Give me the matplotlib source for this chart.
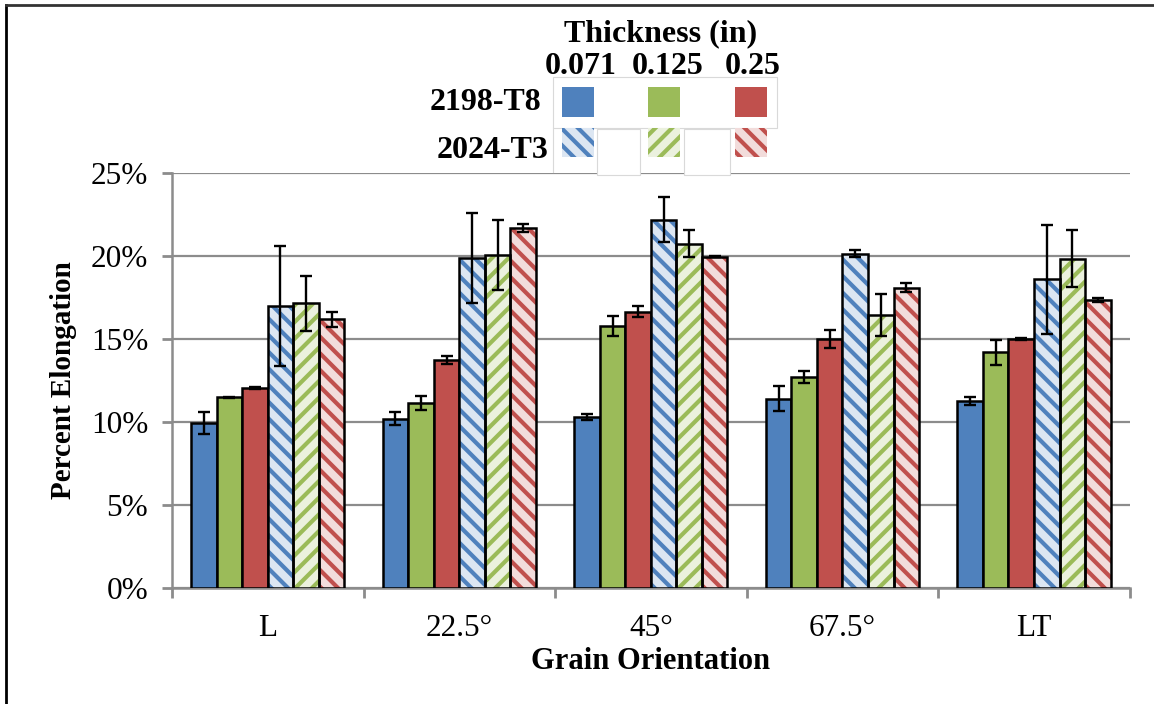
import matplotlib.pyplot as plt
import matplotlib.patches as mpatches
import matplotlib.lines as mlines
import numpy as np

plt.rcParams['font.family'] = ['Liberation Serif', 'DejaVu Serif']
plt.rcParams['hatch.linewidth'] = 3.0

# data (percent elongation)
orientations = ["L", "22.5°", "45°", "67.5°", "LT"]
thickness = ["0.071", "0.125", "0.25"]

al2198_071 = [9.95, 10.2, 10.3, 11.4, 11.25]
al2198_125 = [11.5, 11.15, 15.8, 12.7, 14.2]
al2198_25 = [12.05, 13.75, 16.65, 15.0, 15.0]
al2024_071 = [17.0, 19.9, 22.2, 20.15, 18.6]
al2024_125 = [17.15, 20.05, 20.75, 16.45, 19.85]
al2024_25 = [16.2, 21.7, 19.97, 18.1, 17.37]

err2198_071 = [0.65, 0.4, 0.2, 0.75, 0.25]
err2198_125 = [0.03, 0.4, 0.6, 0.35, 0.75]
err2198_25 = [0.08, 0.25, 0.35, 0.55, 0.06]
err2024_071 = [3.6, 2.7, 1.35, 0.2, 3.3]
err2024_125 = [1.65, 2.1, 0.8, 1.25, 1.7]
err2024_25 = [0.45, 0.25, 0.03, 0.28, 0.12]

solid = ["#4F81BD", "#9BBB59", "#C0504D"]
light = ["#DCE6F2", "#EBF1DE", "#F2DCDB"]
hatches = ["\\\\", "//", "\\\\"]

series = [
    (al2198_071, err2198_071, 0, False),
    (al2198_125, err2198_125, 1, False),
    (al2198_25, err2198_25, 2, False),
    (al2024_071, err2024_071, 0, True),
    (al2024_125, err2024_125, 1, True),
    (al2024_25, err2024_25, 2, True),
]

fig = plt.figure(figsize=(11.54, 7.04), dpi=100)
ax = fig.add_axes([0.149, 0.165, 0.83, 0.589])

x = np.arange(len(orientations))
w = 0.8 / 6
for i, (vals, errs, c, hatched) in enumerate(series):
    pos = x - 0.4 + w * (i + 0.5)
    if hatched:
        ax.bar(pos, vals, w, color=light[c], edgecolor=solid[c], hatch=hatches[c],
               linewidth=0, zorder=3)
        ax.bar(pos, vals, w, facecolor='none', edgecolor='black', linewidth=1.8, zorder=4)
    else:
        ax.bar(pos, vals, w, color=solid[c], edgecolor='black', linewidth=1.8, zorder=3)
    ax.errorbar(pos, vals, yerr=errs, fmt='none', ecolor='black', elinewidth=1.7,
                capsize=4, capthick=1.7, zorder=5)

ax.set_xlim(-0.5, len(orientations) - 0.5)
ax.set_ylim(0, 25)
ax.set_yticks(np.arange(0, 26, 5))
ax.set_yticklabels([f"{v}%" for v in range(0, 26, 5)], fontsize=22.5)
ax.set_xticks(x)
ax.set_xticklabels(orientations, fontsize=22.5)
ax.set_xticks(np.arange(-0.5, len(orientations), 1), minor=True)
ax.tick_params(axis='x', which='major', length=0, pad=19)
ax.tick_params(axis='x', which='minor', length=7, width=2, color='#8c8c8c', direction='out')
ax.tick_params(axis='y', length=7, width=2, color='#8c8c8c', direction='out', pad=10)

ax.grid(axis='y', color='#8c8c8c', linewidth=1.6, zorder=0)
ax.set_axisbelow(True)
for s in ['top', 'right']:
    ax.spines[s].set_visible(False)
for s in ['left', 'bottom']:
    ax.spines[s].set_color('#8c8c8c')
    ax.spines[s].set_linewidth(1.8)

ax.set_xlabel("Grain Orientation", fontsize=22, fontweight='bold', labelpad=3)
ax.set_ylabel("Percent Elongation", fontsize=21, fontweight='bold', labelpad=10)

# legend drawn as a little table above the plot
W, H = 1154.0, 704.0


def box(x0, y0, x1, y1, **kw):
    fig.patches.append(mpatches.Rectangle((x0 / W, 1 - y1 / H), (x1 - x0) / W, (y1 - y0) / H,
                                          transform=fig.transFigure, **kw))


fig.text(661 / W, 1 - 34 / H, "Thickness (in)", fontsize=23, fontweight='bold',
         ha='center', va='center')
colx = [578, 664, 751]
labx = [581, 668, 753]
for lx, t in zip(labx, thickness):
    fig.text(lx / W, 1 - 67 / H, t, fontsize=23, fontweight='bold', ha='center', va='center')
fig.text(541 / W, 1 - 103 / H, "2198-T8", fontsize=23, fontweight='bold', ha='right', va='center')
fig.text(548 / W, 1 - 150 / H, "2024-T3", fontsize=23, fontweight='bold', ha='right', va='center')
box(553, 77, 777, 128, facecolor='none', edgecolor='#d9d9d9', linewidth=0.8)
box(597, 129, 640, 175, facecolor='white', edgecolor='#d9d9d9', linewidth=0.8)
box(684, 129, 730, 175, facecolor='white', edgecolor='#d9d9d9', linewidth=0.8)
fig.lines.append(mlines.Line2D([553 / W, 553 / W], [1 - 128 / H, 1 - 172 / H],
                               transform=fig.transFigure, color='#d9d9d9', linewidth=0.8))
for c, cx in enumerate(colx):
    box(cx - 16, 87, cx + 16, 117, facecolor=solid[c], edgecolor='none')
    box(cx - 16, 128, cx + 16, 157, facecolor=light[c], edgecolor=solid[c],
        hatch=hatches[c], linewidth=0)

# outer frame: top and left lines only
fig.lines.append(mlines.Line2D([6 / W, 6 / W], [0, 1 - 5 / H], transform=fig.transFigure,
                               color='black', linewidth=2))
fig.lines.append(mlines.Line2D([6 / W, 1], [1 - 5 / H, 1 - 5 / H], transform=fig.transFigure,
                               color='#333333', linewidth=2))

fig.savefig("out.png", dpi=100)
